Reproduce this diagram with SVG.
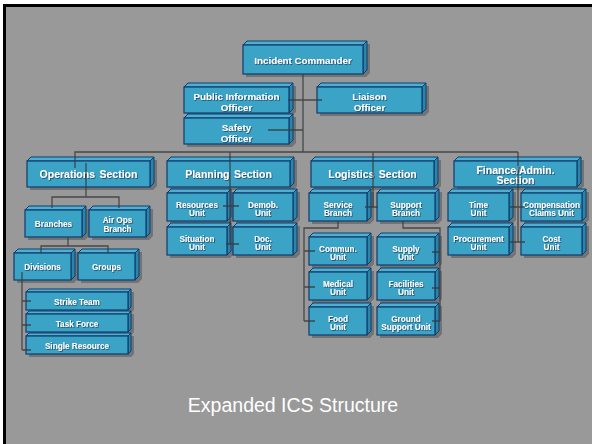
<svg xmlns="http://www.w3.org/2000/svg" xmlns:xlink="http://www.w3.org/1999/xlink" width="592" height="444" viewBox="0 0 592 444">
<style>
.sh{fill:#6c6c6c;opacity:.85}
.tp{fill:#4bb0d2;stroke:#0f3d6e;stroke-width:1}
.rt{fill:#2a85a8;stroke:#0f3d6e;stroke-width:1}
.fr{fill:#3aa3c6;stroke:#0f3d6e;stroke-width:1.2}
.t{fill:#fff;font-family:"Liberation Sans",Arial,sans-serif;font-weight:bold;text-anchor:middle;filter:url(#ts)}
.s1{font-size:9.8px}
.s2{font-size:10.5px}
.s3{font-size:8.2px}
.cn{fill:none;stroke:#3a3a3a;stroke-width:1.3;opacity:.85}
</style>
<defs>
<filter id="ts" x="-10%" y="-30%" width="120%" height="160%"><feDropShadow dx="0.8" dy="0.8" stdDeviation="0.3" flood-color="#123a5c" flood-opacity="0.9"/></filter>
<g id="bA"><path class="sh" d="M3,3 L7,-1 H127 V28 L123,32 H3 Z"/><path class="tp" d="M0,0 L4,-4 H124 L120,0 Z"/><path class="rt" d="M120,0 L124,-4 V25 L120,29 Z"/><rect class="fr" width="120" height="29"/></g>
<g id="bB"><path class="sh" d="M3,3 L7,-1 H112 V25 L108,29 H3 Z"/><path class="tp" d="M0,0 L4,-4 H109 L105,0 Z"/><path class="rt" d="M105,0 L109,-4 V22 L105,26 Z"/><rect class="fr" width="105" height="26"/></g>
<g id="bC"><path class="sh" d="M3,3 L7,-1 H130 V25 L126,29 H3 Z"/><path class="tp" d="M0,0 L4,-4 H127 L123,0 Z"/><path class="rt" d="M123,0 L127,-4 V22 L123,26 Z"/><rect class="fr" width="123" height="26"/></g>
<g id="bD"><path class="sh" d="M3,3 L7,-1 H64 V26 L60,30 H3 Z"/><path class="tp" d="M0,0 L4,-4 H61 L57,0 Z"/><path class="rt" d="M57,0 L61,-4 V23 L57,27 Z"/><rect class="fr" width="57" height="27"/></g>
<g id="bE"><path class="sh" d="M3,3 L6,0 H108 V18 L105,21 H3 Z"/><path class="tp" d="M0,0 L3,-3 H105 L102,0 Z"/><path class="rt" d="M102,0 L105,-3 V15 L102,18 Z"/><rect class="fr" width="102" height="18"/></g>
<g id="bF"><path class="sh" d="M3,3 L7,-1 H67 V27 L63,31 H3 Z"/><path class="tp" d="M0,0 L4,-4 H64 L60,0 Z"/><path class="rt" d="M60,0 L64,-4 V24 L60,28 Z"/><rect class="fr" width="60" height="28"/></g>
<g id="bL"><path class="sh" d="M3,3 L7,-1 H65 V27 L61,31 H3 Z"/><path class="tp" d="M0,0 L4,-4 H62 L58,0 Z"/><path class="rt" d="M58,0 L62,-4 V24 L58,28 Z"/><rect class="fr" width="58" height="28"/></g>
<g id="bG"><path class="sh" d="M3,3 L7,-1 H68 V27 L64,31 H3 Z"/><path class="tp" d="M0,0 L4,-4 H65 L61,0 Z"/><path class="rt" d="M61,0 L65,-4 V24 L61,28 Z"/><rect class="fr" width="61" height="28"/></g>
</defs>
<rect width="592" height="444" fill="#ffffff"/>
<rect x="3" y="4" width="589" height="440" fill="#000000"/>
<rect x="6" y="7" width="586" height="437" fill="#999999"/>

<g id="ic" transform="translate(243,45)"><use xlink:href="#bA"/><text class="t s1" x="60" y="18.5">Incident Commander</text></g>
<g id="pio" transform="translate(184,87)"><use xlink:href="#bB"/><text class="t s1" x="52.5" y="13">Public Information</text><text class="t s1" x="52.5" y="23.5">Officer</text></g>
<g id="liaison" transform="translate(317,87)"><use xlink:href="#bB"/><text class="t s1" x="52.5" y="13">Liaison</text><text class="t s1" x="52.5" y="23.5">Officer</text></g>
<g id="safety" transform="translate(184,118)"><use xlink:href="#bB"/><text class="t s1" x="52.5" y="13">Safety</text><text class="t s1" x="52.5" y="23.5">Officer</text></g>

<g id="ops" transform="translate(27,161)"><use xlink:href="#bC"/><text class="t s2" x="61.5" y="17" word-spacing="1.5">Operations Section</text></g>
<g id="planning" transform="translate(167,161)"><use xlink:href="#bC"/><text class="t s2" x="61.5" y="17" word-spacing="1.5">Planning Section</text></g>
<g id="logistics" transform="translate(311,161)"><use xlink:href="#bC"/><text class="t s2" x="61.5" y="17" word-spacing="1.5">Logistics Section</text></g>
<g id="finance" transform="translate(454,161)"><use xlink:href="#bC"/><text class="t s2" x="61.5" y="12.5">Finance/Admin.</text><text class="t s2" x="61.5" y="23">Section</text></g>

<g id="branches" transform="translate(25,210)"><use xlink:href="#bD"/><text class="t s3" x="28.5" y="16.5">Branches</text></g>
<g id="airops" transform="translate(89,210)"><use xlink:href="#bD"/><text class="t s3" x="28.5" y="13">Air Ops</text><text class="t s3" x="28.5" y="21.5">Branch</text></g>
<g id="divisions" transform="translate(14,253)"><use xlink:href="#bD"/><text class="t s3" x="28.5" y="17">Divisions</text></g>
<g id="groups" transform="translate(78,253)"><use xlink:href="#bD"/><text class="t s3" x="28.5" y="17">Groups</text></g>
<g id="strike" transform="translate(26,292)"><use xlink:href="#bE"/><text class="t s3" x="51" y="12.5">Strike Team</text></g>
<g id="task" transform="translate(26,314)"><use xlink:href="#bE"/><text class="t s3" x="51" y="12.5">Task Force</text></g>
<g id="single" transform="translate(26,336)"><use xlink:href="#bE"/><text class="t s3" x="51" y="12.5">Single Resource</text></g>

<g id="resources" transform="translate(167,193)"><use xlink:href="#bF"/><text class="t s3" x="30" y="14.5">Resources</text><text class="t s3" x="30" y="23">Unit</text></g>
<g id="demob" transform="translate(233,193)"><use xlink:href="#bF"/><text class="t s3" x="30" y="14.5">Demob.</text><text class="t s3" x="30" y="23">Unit</text></g>
<g id="situation" transform="translate(167,227)"><use xlink:href="#bF"/><text class="t s3" x="30" y="14.5">Situation</text><text class="t s3" x="30" y="23">Unit</text></g>
<g id="doc" transform="translate(233,227)"><use xlink:href="#bF"/><text class="t s3" x="30" y="14.5">Doc.</text><text class="t s3" x="30" y="23">Unit</text></g>

<g id="service" transform="translate(309,193)"><use xlink:href="#bL"/><text class="t s3" x="29" y="14.5">Service</text><text class="t s3" x="29" y="23">Branch</text></g>
<g id="support" transform="translate(377,193)"><use xlink:href="#bL"/><text class="t s3" x="29" y="14.5">Support</text><text class="t s3" x="29" y="23">Branch</text></g>
<g id="commun" transform="translate(309,237)"><use xlink:href="#bL"/><text class="t s3" x="29" y="14.5">Commun.</text><text class="t s3" x="29" y="23">Unit</text></g>
<g id="supply" transform="translate(377,237)"><use xlink:href="#bL"/><text class="t s3" x="29" y="14.5">Supply</text><text class="t s3" x="29" y="23">Unit</text></g>
<g id="medical" transform="translate(309,272)"><use xlink:href="#bL"/><text class="t s3" x="29" y="14.5">Medical</text><text class="t s3" x="29" y="23">Unit</text></g>
<g id="facilities" transform="translate(377,272)"><use xlink:href="#bL"/><text class="t s3" x="29" y="14.5">Facilities</text><text class="t s3" x="29" y="23">Unit</text></g>
<g id="food" transform="translate(309,307)"><use xlink:href="#bL"/><text class="t s3" x="29" y="14.5">Food</text><text class="t s3" x="29" y="23">Unit</text></g>
<g id="ground" transform="translate(377,307)"><use xlink:href="#bL"/><text class="t s3" x="29" y="14.5">Ground</text><text class="t s3" x="29" y="23">Support Unit</text></g>

<g id="time" transform="translate(448,193)"><use xlink:href="#bG"/><text class="t s3" x="30.5" y="14.5">Time</text><text class="t s3" x="30.5" y="23">Unit</text></g>
<g id="comp" transform="translate(521,193)"><use xlink:href="#bG"/><text class="t s3" x="30.5" y="14.5">Compensation</text><text class="t s3" x="30.5" y="23">Claims Unit</text></g>
<g id="procurement" transform="translate(448,227)"><use xlink:href="#bG"/><text class="t s3" x="30.5" y="14.5">Procurement</text><text class="t s3" x="30.5" y="23">Unit</text></g>
<g id="cost" transform="translate(521,227)"><use xlink:href="#bG"/><text class="t s3" x="30.5" y="14.5">Cost</text><text class="t s3" x="30.5" y="23">Unit</text></g>

<g id="connectors" class="cn">
<path d="M303,74 V152"/>
<path d="M288,100 H322"/>
<path d="M268,130 H303"/>
<path d="M75,168 V152 H518"/>
<path d="M86,163 V197 M52,208 V197 H119 V208"/>
<path d="M68,237 V246 M41,253 V246 H108 V253"/>
<path d="M22,272 V350 M22,301 H31 M22,325 H31 M22,350 H31"/>
<path d="M230,152 V244 M223,206 H239 M226,244 H239"/>
<path d="M373,152 V207 M365,207 H378"/>
<path d="M338,221 V228 H304 V321 M304,251 H315 M304,287 H315 M304,321 H315"/>
<path d="M403,221 V228 H440 V321 M432,252 H440 M432,288 H440 M432,321 H440"/>
<path d="M518,152 V242 M510,207 H525 M510,242 H525"/>
</g>

<text x="293" y="412" fill="#ffffff" font-family="'Liberation Sans',Arial,sans-serif" font-size="19.5" text-anchor="middle">Expanded ICS Structure</text>
</svg>
